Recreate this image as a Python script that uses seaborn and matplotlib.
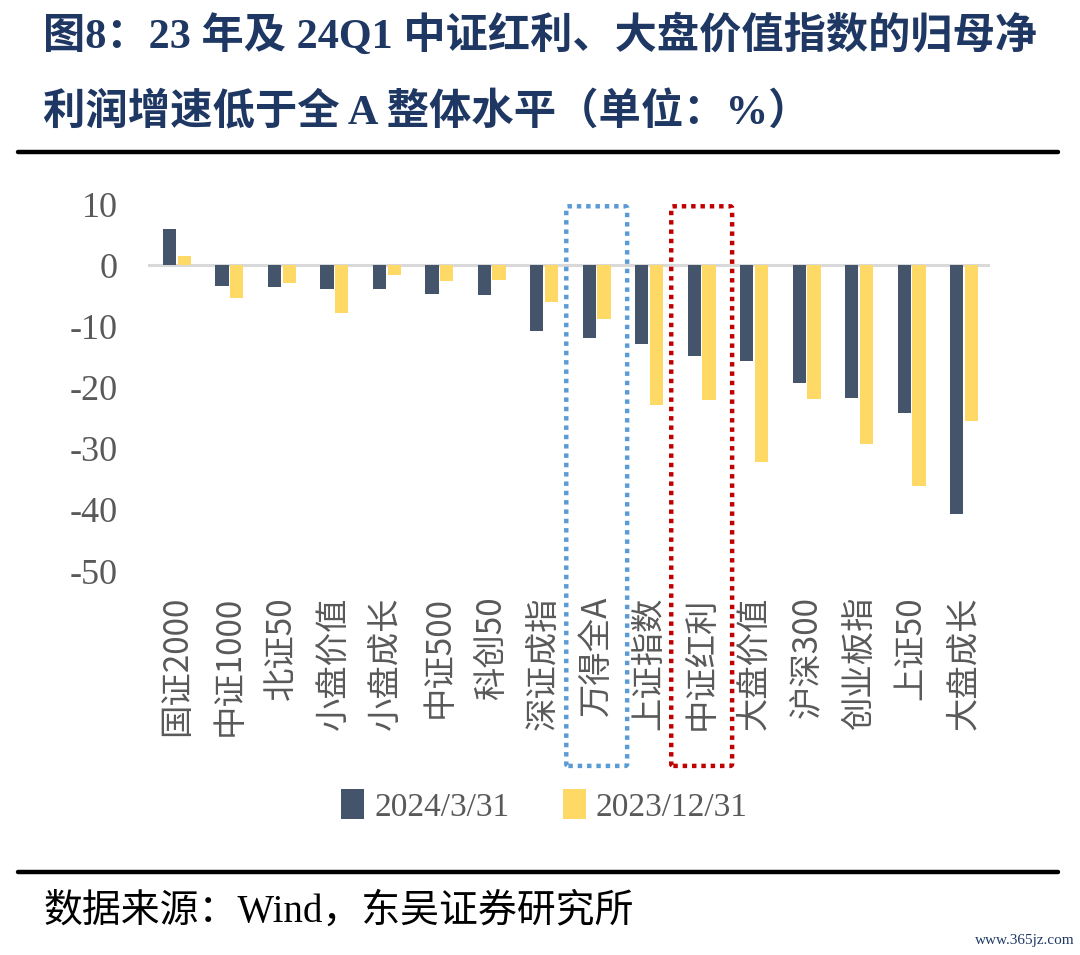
import matplotlib
matplotlib.use("Agg")
import matplotlib.pyplot as plt
import matplotlib.transforms as mtransforms
from matplotlib.patches import Patch, FancyBboxPatch
from matplotlib.lines import Line2D
import seaborn as sns
import pandas as pd
import numpy as np

categories = ["国证2000", "中证1000", "北证50", "小盘价值", "小盘成长", "中证500", "科创50",
              "深证成指", "万得全A", "上证指数", "中证红利", "大盘价值", "沪深300", "创业板指",
              "上证50", "大盘成长"]
q1_2024 = [5.9, -3.4, -3.6, -3.9, -3.9, -4.6, -4.9, -10.8, -11.9, -12.9, -14.8, -15.7,
           -19.3, -21.6, -24.1, -40.7]
fy_2023 = [1.5, -5.4, -2.8, -7.8, -1.6, -2.5, -2.3, -5.9, -8.8, -22.8, -22.0, -32.2,
           -21.8, -29.2, -36.0, -25.4]
series_names = ["2024/3/31", "2023/12/31"]
yticks = [10, 0, -10, -20, -30, -40, -50]
title_line1 = "图8：23 年及 24Q1 中证红利、大盘价值指数的归母净"
title_line2 = "利润增速低于全 A 整体水平（单位：%）"
source_text = "数据来源：Wind，东吴证券研究所"
watermark = "www.365jz.com"

DARK = "#44546A"
YELLOW = "#FFD966"
NAVY = "#1F3763"
GRAY = "#595959"

sns.set_theme(style="white")
plt.rcParams['font.family'] = ['Liberation Serif', 'Noto Sans CJK SC', 'DejaVu Sans']

df = pd.DataFrame({
    "cat": categories * 2,
    "value": q1_2024 + fy_2023,
    "series": [series_names[0]] * len(categories) + [series_names[1]] * len(categories),
})

fig = plt.figure(figsize=(10.8, 9.55), dpi=100)
ax = fig.add_axes([0.137, 0.402, 0.780, 0.384])

sns.barplot(data=df, x="cat", y="value", hue="series", palette=[DARK, YELLOW],
            width=0.56, gap=0.1, ax=ax, legend=False, errorbar=None,
            saturation=1, edgecolor="none")

ax.set_xlim(-0.55, 15.5)
ax.set_ylim(-50, 10)
ax.set_yticks(yticks)
ax.set_yticklabels([str(v) for v in yticks], fontsize=26, color=GRAY,
                   family=['Liberation Serif'])
ax.set_xticks(range(len(categories)))
ax.set_xticklabels(categories, rotation=90, fontsize=24, color=GRAY,
                   family=['Noto Sans CJK SC', 'DejaVu Sans'])
ax.tick_params(axis='y', length=0, pad=22)
ax.tick_params(axis='x', length=0, pad=18)
ax.set_xlabel("")
ax.set_ylabel("")
for s in ax.spines.values():
    s.set_visible(False)
ax.axhline(0, color="#D9D9D9", lw=2.2, zorder=0)

# dotted highlight boxes (x in data coords, y in figure coords)
trans = mtransforms.blended_transform_factory(ax.transData, fig.transFigure)
for cidx, col in [(8, "#5B9BD5"), (10, "#C00000")]:
    box = FancyBboxPatch((cidx - 0.58, 0.198), 1.16, 0.586,
                         boxstyle="round,pad=0,rounding_size=0.04",
                         transform=trans, fill=False, edgecolor=col,
                         linestyle=(0, (1, 1.1)), linewidth=3.2,
                         clip_on=False, zorder=5, mutation_aspect=0.05)
    fig.add_artist(box)

# legend
handles = [Patch(facecolor=DARK, edgecolor="none"), Patch(facecolor=YELLOW, edgecolor="none")]
leg = fig.legend(handles, series_names, loc="center", bbox_to_anchor=(0.504, 0.156),
                 ncol=2, frameon=False, handlelength=0.7, handleheight=1.0,
                 handletextpad=0.3, columnspacing=1.6,
                 prop={'family': 'Liberation Serif', 'size': 24})
for t in leg.get_texts():
    t.set_color(GRAY)

# title
fig.text(0.040, 0.963, title_line1, fontsize=30.4, fontweight="bold", color=NAVY,
         va="center", ha="left")
fig.text(0.040, 0.882, title_line2, fontsize=30.5, fontweight="bold", color=NAVY,
         va="center", ha="left")

# rules
fig.add_artist(Line2D([0.017, 0.980], [0.841, 0.841], color="black", lw=3.2,
                      transform=fig.transFigure))
fig.add_artist(Line2D([0.017, 0.980], [0.087, 0.087], color="black", lw=3.2,
                      transform=fig.transFigure))

fig.text(0.040, 0.045, source_text, fontsize=28, color="black", va="center", ha="left")
fig.text(0.995, 0.008, watermark, fontsize=11, color=NAVY, va="bottom", ha="right")

fig.savefig("out.png", dpi=100)
